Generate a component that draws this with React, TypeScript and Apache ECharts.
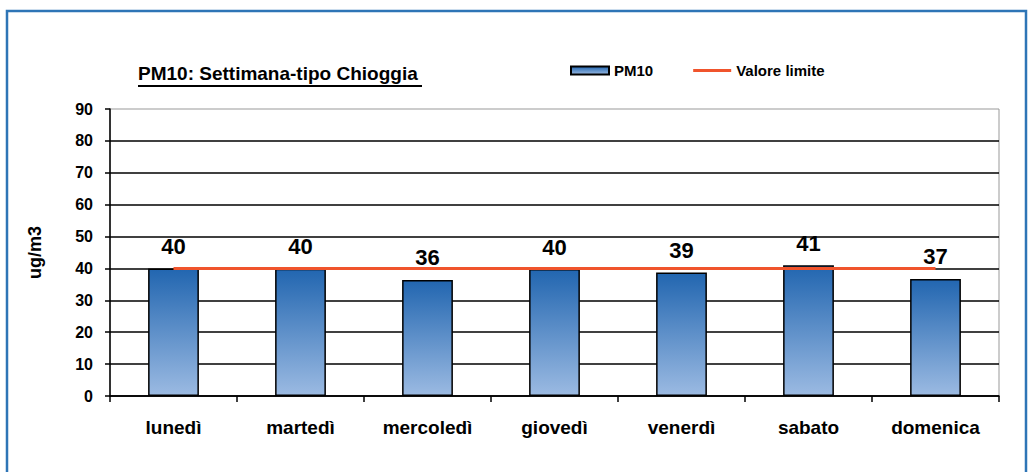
import React, { useEffect, useRef } from "react";
import * as echarts from "echarts";

const categories = ["lunedì", "martedì", "mercoledì", "giovedì", "venerdì", "sabato", "domenica"];
const pm10Values = [40.0, 39.9, 36.4, 39.8, 38.7, 41.0, 36.7];
const limitValues = [40, 40, 40, 40, 40, 40, 40];
const yTicks = { min: 0, max: 90, interval: 10 };

const FONT = "'Liberation Sans', Arial, sans-serif";

export default function App() {
  const ref = useRef<HTMLDivElement>(null);
  useEffect(() => {
    const chart = echarts.init(ref.current!, null, { renderer: "svg" });
    chart.setOption({
      animation: false,
      backgroundColor: "#ffffff",
      textStyle: { fontFamily: FONT },
      title: {
        text: "PM10: Settimana-tipo Chioggia",
        left: 133,
        top: 59,
        textStyle: { fontFamily: FONT, fontSize: 19, fontWeight: "bold", color: "#000" },
      },
      legend: {
        left: 565,
        top: 58,
        itemGap: 40,
        itemWidth: 38,
        itemHeight: 8,
        textStyle: { fontFamily: FONT, fontSize: 15, fontWeight: "bold", color: "#000" },
        data: [
          { name: "PM10", icon: "rect" },
          { name: "Valore limite", icon: "path://M0,0 M40,8 M0,2.5 L40,2.5 L40,5.5 L0,5.5 Z" },
        ],
      },
      graphic: [
        {
          type: "rect",
          shape: { x: 7, y: 11, width: 1019, height: 480 },
          style: { fill: "none", stroke: "#2E75B6", lineWidth: 2.5 },
          silent: true,
        },
        {
          type: "line",
          shape: { x1: 138, y1: 86, x2: 422, y2: 86 },
          style: { stroke: "#000", lineWidth: 2 },
          silent: true,
        },
      ],
      grid: {
        left: 110,
        right: 29,
        top: 109,
        bottom: 76,
        show: true,
        borderColor: "#999",
        borderWidth: 1,
      },
      xAxis: {
        type: "category",
        data: categories,
        axisLine: { lineStyle: { color: "#000", width: 1.5 } },
        axisTick: { show: true, length: 6, lineStyle: { color: "#000", width: 1.5 } },
        axisLabel: { margin: 22, fontFamily: FONT, fontSize: 19, fontWeight: "bold", color: "#000" },
      },
      yAxis: {
        type: "value",
        min: yTicks.min,
        max: yTicks.max,
        interval: yTicks.interval,
        name: "ug/m3",
        nameLocation: "middle",
        nameGap: 66,
        nameRotate: 90,
        nameTextStyle: { fontFamily: FONT, fontSize: 18, fontWeight: "bold", color: "#000" },
        axisLine: { show: true, lineStyle: { color: "#000", width: 1.5 } },
        axisTick: { show: true, length: 5, lineStyle: { color: "#000", width: 1.5 } },
        axisLabel: { margin: 17, fontFamily: FONT, fontSize: 16, fontWeight: "bold", color: "#000" },
        splitLine: { show: true, showMaxLine: false, lineStyle: { color: "#000", width: 1.5 } },
      },
      series: [
        {
          name: "PM10",
          type: "bar",
          data: pm10Values,
          barWidth: "40%",
          itemStyle: {
            color: new echarts.graphic.LinearGradient(0, 0, 0, 1, [
              { offset: 0, color: "#2266B0" },
              { offset: 1, color: "#9BBAE2" },
            ]),
            borderColor: "#000",
            borderWidth: 1.5,
          },
          label: {
            show: true,
            position: "top",
            distance: 11,
            formatter: (p: any) => String(Math.round(p.value)),
            fontFamily: FONT,
            fontSize: 22,
            fontWeight: "bold",
            color: "#000",
          },
          z: 2,
        },
        {
          name: "Valore limite",
          type: "line",
          data: limitValues,
          symbol: "none",
          lineStyle: { color: "#F0542C", width: 3 },
          itemStyle: { color: "#F0542C" },
          z: 3,
        },
      ],
    });
    return () => chart.dispose();
  }, []);
  return (
    <div
      ref={ref}
      style={{ position: "fixed", left: 0, top: 0, width: 1028, height: 472 }}
    />
  );
}
